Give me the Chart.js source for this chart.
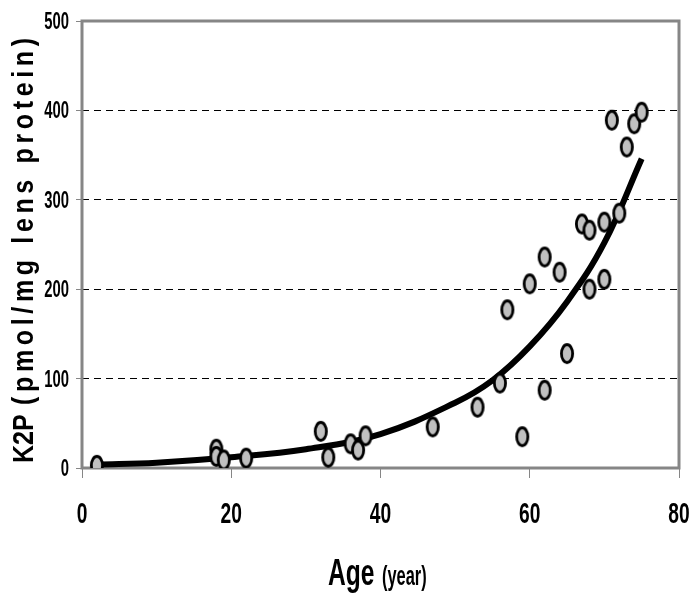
<!DOCTYPE html>
<html lang="en">
<head>
    <meta charset="UTF-8">
    <title>K2P vs Age</title>
    <script src="https://cdn.jsdelivr.net/npm/chart.js"></script>
    <style>
        body { margin: 0; background: #fff; }
        canvas { display: block; }
    </style>
</head>
<body>
    <canvas id="k2pChart" width="697" height="598"></canvas>

    <script>
        // measured points
        const ageData = [2, 18, 18, 19, 22, 32, 33, 36, 37, 38, 47, 53, 56, 57, 59, 60, 62, 62, 64, 65, 67, 68, 68, 70, 70, 71, 72, 73, 74, 75];
        const k2pData = [3, 21, 13, 9, 11, 41, 12, 27, 20, 36, 46, 68, 95, 177, 35, 206, 236, 87, 219, 128, 273, 266, 200, 275, 211, 389, 285, 359, 385, 398];

        // trend curve
        const fitAge = [2, 10, 20, 30, 40, 50, 55, 60, 65, 70, 75];
        const fitK2P = [4, 6, 12, 21, 38, 73, 98, 136, 186, 252, 346];

        const xTicks = [0, 20, 40, 60, 80];
        const yTicks = [0, 100, 200, 300, 400, 500];

        // grey ellipse marker with black outline
        const marker = document.createElement('canvas');
        marker.width = 16;
        marker.height = 23;
        const mctx = marker.getContext('2d');
        mctx.beginPath();
        mctx.ellipse(8, 11.5, 5.6, 9, 0, 0, Math.PI * 2);
        mctx.fillStyle = '#c0c0c0';
        mctx.fill();
        mctx.lineWidth = 2.8;
        mctx.strokeStyle = '#000';
        mctx.stroke();

        // narrow, tall text like the original (Arial Narrow look)
        function stretchText(ctx, text, x, y, font, sx, sy, align) {
            ctx.save();
            ctx.translate(x, y);
            ctx.scale(sx, sy);
            ctx.font = font;
            ctx.textAlign = align;
            ctx.textBaseline = 'alphabetic';
            ctx.fillStyle = '#000';
            ctx.fillText(text, 0, 0);
            ctx.restore();
        }

        const boxPlugin = {
            id: 'box',
            beforeDatasetsDraw(chart) {
                const { ctx, chartArea: a } = chart;
                ctx.save();
                ctx.strokeStyle = '#868686';
                ctx.lineWidth = 3;
                ctx.strokeRect(a.left, a.top, a.right - a.left, a.bottom - a.top);
                ctx.restore();
            }
        };

        const labelPlugin = {
            id: 'labels',
            afterDraw(chart) {
                const ctx = chart.ctx;
                const xs = chart.scales.x;
                const ys = chart.scales.y;

                xTicks.forEach(v => {
                    stretchText(ctx, String(v), xs.getPixelForValue(v), 523,
                        'bold 24px "Liberation Sans"', 0.8, 1.25, 'center');
                });
                yTicks.forEach(v => {
                    stretchText(ctx, String(v), 69, ys.getPixelForValue(v) + 8,
                        'bold 19px "Liberation Sans"', 0.78, 1.25, 'right');
                });

                // x title
                stretchText(ctx, 'Age', 328, 585, 'bold 30px "Liberation Sans"', 0.82, 1.25, 'left');
                stretchText(ctx, '(year)', 382, 585, 'bold 20px "Liberation Sans"', 0.82, 1.4, 'left');

                // y title, rotated
                ctx.save();
                ctx.translate(33, 463);
                ctx.rotate(-Math.PI / 2);
                ctx.scale(1, 1.2);
                ctx.fillStyle = '#000';
                ctx.textAlign = 'left';
                ctx.textBaseline = 'alphabetic';
                ctx.font = 'bold 25px "Liberation Sans"';
                ctx.fillText('K2P', 0, 0);
                ctx.font = 'bold 25px "Liberation Sans"';
                const rest = '(pmol/mg lens protein)';
                const natural = ctx.measureText(rest).width;
                const target = 367;
                if ('letterSpacing' in ctx) {
                    ctx.letterSpacing = ((target - natural) / (rest.length - 1)).toFixed(2) + 'px';
                    ctx.fillText(rest, 58, 0);
                } else {
                    ctx.save();
                    ctx.translate(58, 0);
                    ctx.scale(target / natural, 1);
                    ctx.fillText(rest, 0, 0);
                    ctx.restore();
                }
                ctx.restore();
            }
        };

        const chart = new Chart(document.getElementById('k2pChart'), {
            type: 'scatter',
            data: {
                datasets: [
                    {
                        label: 'fit',
                        data: fitAge.map((a, i) => ({ x: a, y: fitK2P[i] })),
                        showLine: true,
                        borderColor: '#000',
                        borderWidth: 6,
                        pointRadius: 0,
                        tension: 0.4,
                        order: 2
                    },
                    {
                        label: 'K2P',
                        data: ageData.map((a, i) => ({ x: a, y: k2pData[i] })),
                        pointStyle: marker,
                        order: 1
                    }
                ]
            },
            options: {
                responsive: false,
                animation: false,
                layout: { padding: { top: 21, right: 18, left: 0, bottom: 0 } },
                plugins: {
                    legend: { display: false },
                    tooltip: { enabled: false }
                },
                scales: {
                    x: {
                        type: 'linear',
                        min: 0,
                        max: 80,
                        afterBuildTicks: s => { s.ticks = xTicks.map(v => ({ value: v })); },
                        ticks: { display: false },
                        grid: {
                            drawOnChartArea: false,
                            tickLength: 10,
                            tickColor: '#868686'
                        },
                        border: { display: false },
                        afterFit: s => { s.height = 130; }
                    },
                    y: {
                        min: 0,
                        max: 500,
                        afterBuildTicks: s => { s.ticks = yTicks.map(v => ({ value: v })); },
                        ticks: { display: false },
                        grid: {
                            color: c => (c.tick && (c.tick.value === 0 || c.tick.value === 500)) ? 'rgba(0,0,0,0)' : '#000',
                            lineWidth: 1,
                            tickLength: 6,
                            tickColor: '#868686',
                            tickBorderDash: []
                        },
                        border: { display: false, dash: [7, 5] },
                        afterFit: s => { s.width = 82; }
                    }
                }
            },
            plugins: [boxPlugin, labelPlugin]
        });
    </script>
</body>
</html>
